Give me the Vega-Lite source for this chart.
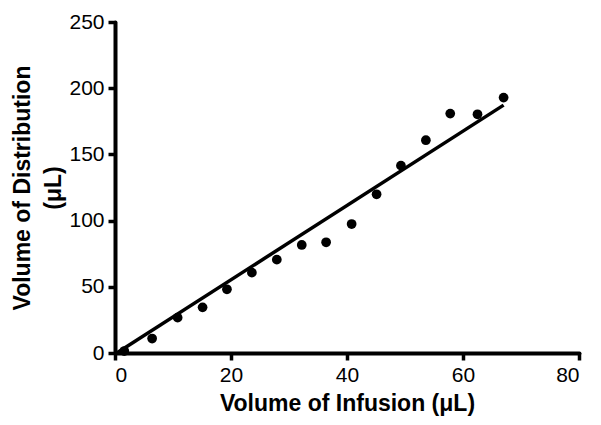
{
  "$schema": "https://vega.github.io/schema/vega-lite/v6.json",
  "width": 464,
  "height": 331,
  "autosize": {"type": "none"},
  "padding": {"left": 115, "top": 22, "right": 22, "bottom": 72},
  "background": "white",
  "config": {
    "view": {"stroke": null},
    "font": "Liberation Sans",
    "axis": {
      "grid": false,
      "domainColor": "black",
      "tickColor": "black",
      "labelFont": "Liberation Sans",
      "labelFontSize": 21,
      "labelColor": "black",
      "labelPadding": 4,
      "titleFont": "Liberation Sans",
      "titleFontSize": 23,
      "titleFontWeight": "bold",
      "titleColor": "black"
    }
  },
  "datasets": {
    "points": [
      {"infusion": 1.6, "distribution": 1.5},
      {"infusion": 6.4, "distribution": 10.9},
      {"infusion": 10.8, "distribution": 26.7},
      {"infusion": 15.1, "distribution": 34.5},
      {"infusion": 19.3, "distribution": 48.1},
      {"infusion": 23.6, "distribution": 60.7},
      {"infusion": 27.9, "distribution": 70.5},
      {"infusion": 32.2, "distribution": 81.6},
      {"infusion": 36.4, "distribution": 83.6},
      {"infusion": 40.8, "distribution": 97.4},
      {"infusion": 45.1, "distribution": 119.9},
      {"infusion": 49.3, "distribution": 141.5},
      {"infusion": 53.6, "distribution": 160.7},
      {"infusion": 57.8, "distribution": 180.8},
      {"infusion": 62.5, "distribution": 180.3},
      {"infusion": 67.0, "distribution": 192.9}
    ],
    "fit": [
      {"infusion": 0.3, "distribution": 0},
      {"infusion": 67.0, "distribution": 187.2}
    ]
  },
  "layer": [
    {
      "data": {"name": "fit"},
      "mark": {"type": "line", "color": "black", "strokeWidth": 3.5},
      "encoding": {
        "x": {"field": "infusion", "type": "quantitative", "scale": {"domain": [0, 80]}},
        "y": {"field": "distribution", "type": "quantitative", "scale": {"domain": [0, 250]}}
      }
    },
    {
      "data": {"name": "points"},
      "mark": {"type": "point", "shape": "circle", "filled": true, "color": "black", "size": 95, "opacity": 1},
      "encoding": {
        "x": {
          "field": "infusion",
          "type": "quantitative",
          "scale": {"domain": [0, 80]},
          "axis": {"values": [0, 20, 40, 60, 80], "title": "Volume of Infusion (μL)", "titlePadding": 7, "domainWidth": 4, "domainCap": "round", "tickWidth": 3.5, "tickSize": 7}
        },
        "y": {
          "field": "distribution",
          "type": "quantitative",
          "scale": {"domain": [0, 250]},
          "axis": {"values": [0, 50, 100, 150, 200, 250], "title": ["Volume of Distribution", "(μL)"], "titlePadding": 3, "titleLineHeight": 31, "domainWidth": 4, "domainCap": "round", "tickWidth": 3.5, "tickSize": 7}
        }
      }
    }
  ]
}
